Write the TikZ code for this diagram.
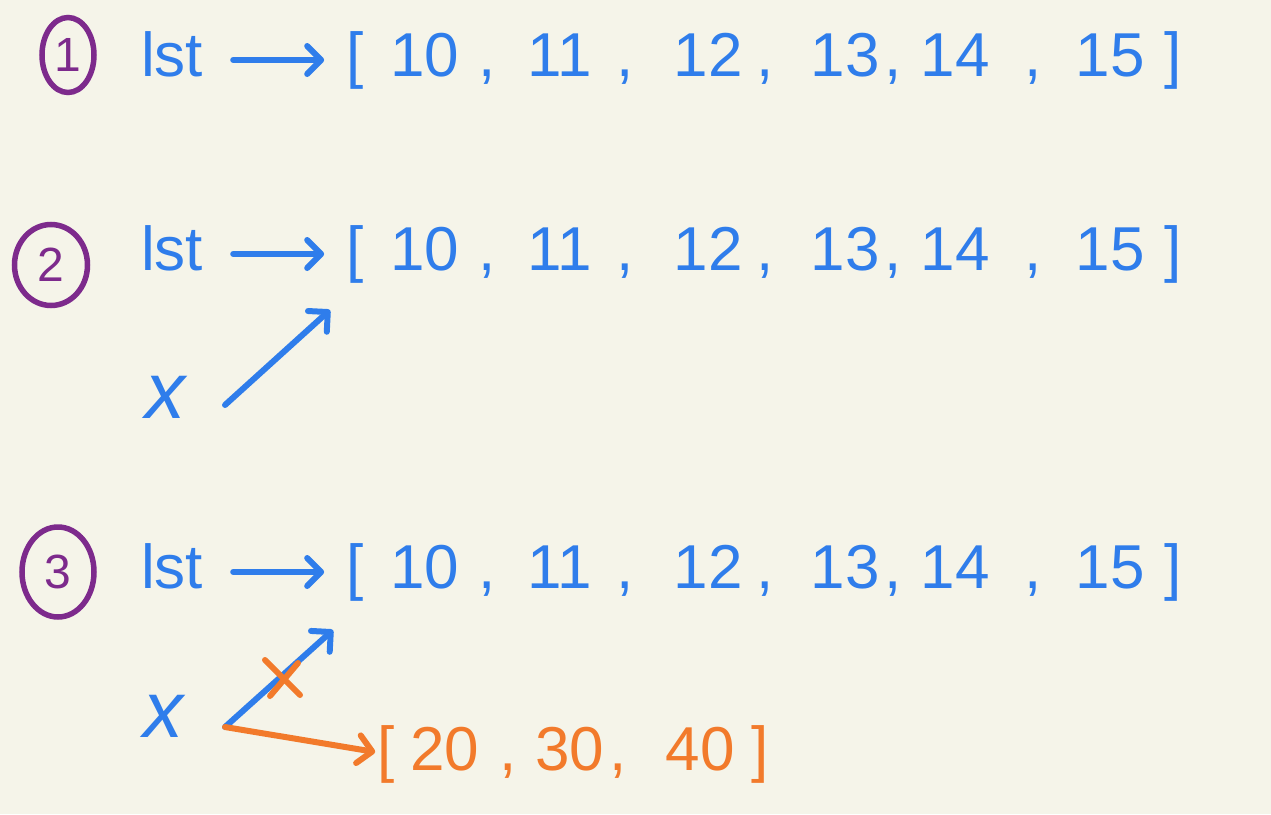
\documentclass[tikz,border=0pt]{standalone}
\usepackage{fontspec}
\setmainfont{Liberation Sans}
\usetikzlibrary{arrows.meta,shapes.geometric}
\definecolor{bg}{HTML}{F5F4E9}
\definecolor{pblue}{HTML}{2F7DEB}
\definecolor{ppurple}{HTML}{7D2A8C}
\definecolor{porange}{HTML}{F27A2B}
\begin{document}
\begin{tikzpicture}[x=1pt,y=-1pt,
  txt/.style={inner sep=0pt, anchor=base, font=\fontsize{62}{62}\selectfont, text=pblue},
  otxt/.style={txt, text=porange},
  xlab/.style={inner sep=0pt, anchor=base, font=\fontsize{80}{80}\selectfont\itshape, text=pblue},
  circ/.style={draw=ppurple, line width=5.5pt, ellipse, inner sep=0pt, text=ppurple, font=\fontsize{48}{48}\selectfont},
  barrow/.style={draw=pblue, line width=6pt, line cap=round, -{Straight Barb[round,length=14pt,width=28pt]}},
  oarrow/.style={draw=porange, line width=6pt, line cap=round, -{Straight Barb[round,length=14pt,width=28pt]}},
  ostroke/.style={draw=porange, line width=6pt, line cap=round}]
\useasboundingbox[fill=bg] (0,0) rectangle (1271,814);
% circled numbers
\node[circ, minimum width=52pt, minimum height=75pt] (c1) at (68,55) {1};
\node[circ, minimum width=73pt, minimum height=81pt] (c2) at (51,265) {2};
\node[circ, minimum width=72pt, minimum height=90pt] (c3) at (58,572) {3};
% the three list rows
\foreach \r/\b in {1/76, 2/270, 3/588}{
  \node[txt] (lst\r) at (172,\b) {lst};
  \node[txt] (lb\r) at (355,\b) {[};
  \node[txt] (n10\r) at (425,\b) {10};
  \node[txt] (ca\r) at (487,\b) {,};
  \node[txt] (n11\r) at (560,\b) {11};
  \node[txt] (cb\r) at (625,\b) {,};
  \node[txt] (n12\r) at (708,\b) {12};
  \node[txt] (cc\r) at (765,\b) {,};
  \node[txt] (n13\r) at (845,\b) {13};
  \node[txt] (cd\r) at (893,\b) {,};
  \node[txt] (n14\r) at (955,\b) {14};
  \node[txt] (ce\r) at (1033,\b) {,};
  \node[txt] (n15\r) at (1110,\b) {15};
  \node[txt] (rb\r) at (1173,\b) {]};
  \draw[barrow] ([xshift=30pt,yshift=16pt]lst\r.base east) -- ([xshift=-22pt,yshift=16pt]lb\r.base west);
}
% row 2: x points to the list
\node[xlab] (x2) at (165,418) {x};
\coordinate (x2s) at (225,405);
\coordinate (x2e) at (330,310);
\draw[barrow] (x2s) -- (x2e);
% row 3: x rebound
\node[xlab] (x3) at (163,737) {x};
\coordinate (x3s) at (225,727);
\coordinate (x3e) at (333,630);
\draw[barrow] (x3s) -- (x3e);
\coordinate (k1) at (265,660);
\coordinate (k2) at (300,695);
\coordinate (k3) at (270,696);
\coordinate (k4) at (298,663);
\draw[ostroke] (k1) -- (k2);
\draw[ostroke] (k3) -- (k4);
\node[otxt] (olb) at (386,770) {[};
\node[otxt] (o20) at (445,770) {20};
\node[otxt] (oca) at (508,770) {,};
\node[otxt] (o30) at (570,770) {30};
\node[otxt] (ocb) at (618,770) {,};
\node[otxt] (o40) at (700,770) {40};
\node[otxt] (orb) at (760,770) {]};
\draw[oarrow] (x3s) -- ([xshift=-2pt,yshift=18pt]olb.base west);
\end{tikzpicture}
\end{document}
